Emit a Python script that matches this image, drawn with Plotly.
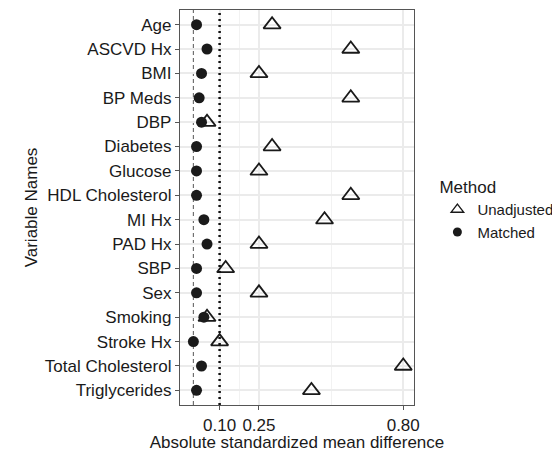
import plotly.graph_objects as go

variables = ["Age", "ASCVD Hx", "BMI", "BP Meds", "DBP", "Diabetes", "Glucose",
             "HDL Cholesterol", "MI Hx", "PAD Hx", "SBP", "Sex", "Smoking",
             "Stroke Hx", "Total Cholesterol", "Triglycerides"]
unadjusted = [0.30, 0.60, 0.25, 0.60, 0.052, 0.30, 0.25, 0.60, 0.50, 0.25,
              0.123, 0.25, 0.052, 0.10, 0.80, 0.45]
matched = [0.012, 0.052, 0.031, 0.022, 0.031, 0.012, 0.012, 0.012, 0.04, 0.052,
           0.012, 0.012, 0.04, 0.0, 0.031, 0.012]
x_ticks = [0.10, 0.25, 0.80]
x_tick_labels = ["0.10", "0.25", "0.80"]
minor_ticks = [0.175, 0.525]
threshold = 0.1
zero_line = 0.0

FONT = "Liberation Sans, Arial, sans-serif"
INK = "#1a1a1a"
FRAME = "#555555"

fig = go.Figure()
fig.add_trace(go.Scatter(
    x=unadjusted, y=variables, mode="markers", name="Unadjusted",
    showlegend=False, legendgroup="u",
    marker=dict(symbol="triangle-up-open", size=15, color=INK,
                line=dict(width=1.8, color=INK)),
))
fig.add_trace(go.Scatter(
    x=matched, y=variables, mode="markers", name="Matched",
    showlegend=False, legendgroup="m",
    marker=dict(symbol="circle", size=11, color=INK, line=dict(width=0)),
))
# legend entries (smaller keys, as in the reference)
fig.add_trace(go.Scatter(
    x=[None], y=[None], mode="markers", name="Unadjusted", legendgroup="u",
    marker=dict(symbol="triangle-up-open", size=11, color=INK,
                line=dict(width=1.3, color=INK)),
))
fig.add_trace(go.Scatter(
    x=[None], y=[None], mode="markers", name="Matched", legendgroup="m",
    marker=dict(symbol="circle", size=9, color=INK, line=dict(width=0)),
))

fig.add_shape(type="line", xref="x", yref="paper", x0=zero_line, x1=zero_line,
              y0=0, y1=1, line=dict(color="#666666", width=1.1, dash="4px,3px"),
              layer="between")
fig.add_shape(type="line", xref="x", yref="paper", x0=threshold, x1=threshold,
              y0=0, y1=1, line=dict(color="#111111", width=2.5, dash="2px,4px"),
              layer="above")

fig.update_layout(
    width=552, height=444,
    margin=dict(l=172, r=144, t=2, b=47),
    plot_bgcolor="white", paper_bgcolor="white",
    font=dict(family=FONT, size=17, color=INK),
    showlegend=True,
    legend=dict(
        title=dict(text="Method", font=dict(size=17, color=INK)),
        x=1.1, y=0.592, xanchor="left", yanchor="top",
        font=dict(size=15, color=INK),
        itemsizing="trace", itemwidth=30, tracegroupgap=0,
        bgcolor="rgba(0,0,0,0)",
    ),
)

fig.update_xaxes(
    range=[-0.051, 0.841],
    tickmode="array", tickvals=x_ticks, ticktext=x_tick_labels,
    tickfont=dict(size=17, color=INK),
    ticks="outside", ticklen=4, tickcolor=FRAME, tickwidth=1,
    showgrid=True, gridcolor="#ebebeb", gridwidth=1.5,
    minor=dict(tickvals=minor_ticks, showgrid=True, gridcolor="#f2f2f2", gridwidth=0.8),
    zeroline=False, automargin=False,
    showline=True, linecolor=FRAME, linewidth=1.3, mirror=True,
    title=dict(text="Absolute standardized mean difference",
               font=dict(size=17, color=INK), standoff=4),
)
fig.update_yaxes(
    categoryorder="array", categoryarray=variables[::-1],
    range=[-0.6, len(variables) - 0.4],
    tickfont=dict(size=17, color=INK),
    ticks="outside", ticklen=4, tickcolor=FRAME, tickwidth=1,
    showgrid=True, gridcolor="#ebebeb", gridwidth=1.5,
    zeroline=False, automargin=False,
    showline=True, linecolor=FRAME, linewidth=1.3, mirror=True,
    title=dict(text="Variable Names", font=dict(size=17, color=INK), standoff=2),
)

fig.write_html("out.html")
